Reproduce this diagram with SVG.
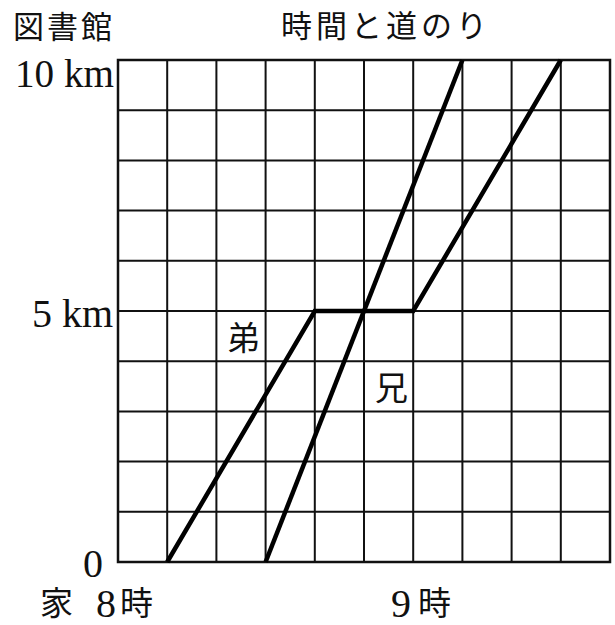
<svg xmlns="http://www.w3.org/2000/svg" width="615" height="625" viewBox="0 0 615 625">
<style>
.grid{stroke:#111;stroke-width:2;fill:none}
.border{stroke:#111;stroke-width:2.5;fill:none}
.path{stroke:#000;stroke-width:4.5;fill:none;stroke-linejoin:miter;stroke-linecap:butt}
.jp{font-family:"Noto Sans CJK JP","Noto Sans",sans-serif;font-size:33px;fill:#111}
.title{font-family:"Noto Sans CJK JP","Noto Sans",sans-serif;font-size:31px;fill:#111}
.num{font-family:"Liberation Serif","Times New Roman",serif;font-size:40px;fill:#111}
</style>
<rect width="615" height="625" fill="#fff"/>
<g id="title">
<text class="title" x="13" y="38" letter-spacing="3">図書館</text>
<text class="title" x="281" y="37" letter-spacing="4">時間と道のり</text>
</g>
<g id="grid">
<g class="grid">
<path d="M167.2 60V562M216.4 60V562M265.6 60V562M314.8 60V562M364 60V562M413.2 60V562M462.4 60V562M511.6 60V562M560.8 60V562"/>
<path d="M118 110.2H610M118 160.4H610M118 210.6H610M118 260.8H610M118 311H610M118 361.2H610M118 411.4H610M118 461.6H610M118 511.8H610"/>
</g>
<rect class="border" x="118" y="60" width="492" height="502"/>
</g>
<g id="connectors">
<polyline id="otouto" class="path" points="167.2,562 314.8,311 413.2,311 560.8,60"/>
<line id="ani" class="path" x1="265.6" y1="562" x2="462.4" y2="60"/>
</g>
<g id="axis-labels">
<text class="num" x="15" y="87" textLength="99" lengthAdjust="spacingAndGlyphs">10 km</text>
<text class="num" x="32" y="327">5 km</text>
<text class="num" x="103" y="577" text-anchor="end">0</text>
<text class="jp" x="40" y="615">家</text>
<text class="num" x="96" y="617">8</text>
<text class="jp" x="120" y="615">時</text>
<text class="num" x="391" y="617">9</text>
<text class="jp" x="418" y="615">時</text>
</g>
<g id="label-otouto"><text class="jp" x="227" y="350">弟</text></g>
<g id="label-ani"><text class="jp" x="375" y="400">兄</text></g>
</svg>
